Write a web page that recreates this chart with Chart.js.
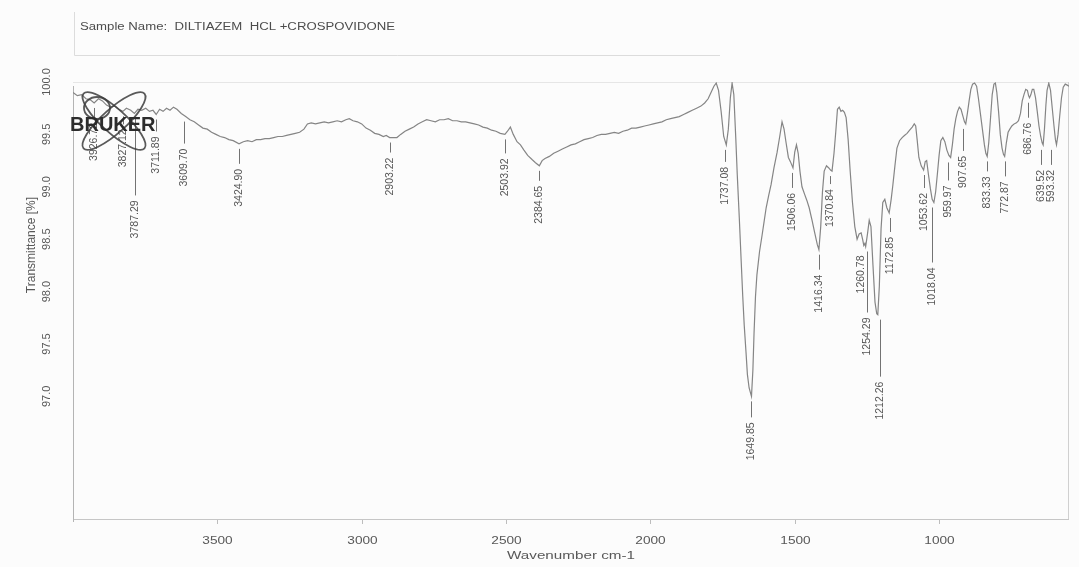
<!DOCTYPE html>
<html>
<head>
<meta charset="utf-8">
<title>DILTIAZEM HCL +CROSPOVIDONE – IR spectrum</title>
<script src="https://cdn.jsdelivr.net/npm/chart.js@4.4.0/dist/chart.umd.min.js"></script>
<style>
  html, body { margin: 0; padding: 0; background: #fcfcfc; }
  canvas { display: block; }
</style>
</head>
<body>
<canvas id="spectrum" width="1079" height="567"></canvas>
<script>
// Spectrum: wavenumber (cm-1) and transmittance (%)
const wavenumbers = [
  4000, 3985, 3970, 3955, 3940, 3926.72, 3912, 3898, 3884, 3870, 3856, 3842, 3827.12, 3815, 3800, 3787.29,
  3775, 3762, 3748, 3735, 3723, 3711.89, 3700, 3688, 3676, 3664, 3652, 3640, 3625, 3609.70, 3595, 3580,
  3565, 3550, 3535, 3520, 3505, 3490, 3475, 3460, 3445, 3424.90, 3410, 3395, 3380, 3365, 3350, 3335,
  3320, 3305, 3290, 3275, 3260, 3245, 3230, 3215, 3200, 3188, 3175, 3160, 3145, 3130, 3115, 3100,
  3085, 3070, 3055, 3043, 3030, 3015, 3000, 2985, 2970, 2955, 2940, 2925, 2915, 2903.22, 2890, 2878,
  2865, 2850, 2835, 2820, 2805, 2790, 2775, 2760, 2745, 2730, 2715, 2700, 2685, 2670, 2655, 2640,
  2625, 2610, 2595, 2580, 2565, 2550, 2535, 2520, 2503.92, 2495, 2485, 2475, 2462, 2450, 2438, 2425,
  2410, 2398, 2384.65, 2375, 2365, 2350, 2335, 2320, 2305, 2290, 2275, 2260, 2245, 2230, 2215, 2200,
  2185, 2170, 2155, 2140, 2125, 2110, 2095, 2080, 2065, 2050, 2035, 2020, 2005, 1990, 1975, 1960,
  1945, 1930, 1915, 1900, 1885, 1870, 1855, 1840, 1825, 1812, 1800, 1790, 1780, 1772, 1764, 1755,
  1746, 1737.08, 1730, 1723, 1717, 1711, 1704, 1699, 1692, 1686, 1680, 1675, 1669, 1664, 1658, 1649.85,
  1645, 1641, 1636, 1631, 1622, 1613, 1606, 1599, 1590, 1582, 1572, 1561, 1552, 1544, 1537, 1530,
  1522, 1515, 1506.06, 1500, 1494, 1488, 1482, 1475, 1466, 1458, 1450, 1440, 1430, 1422, 1416.34, 1410,
  1404, 1398, 1390, 1382, 1376, 1370.84, 1364, 1358, 1352, 1346, 1340, 1334, 1328, 1322, 1315, 1308,
  1300, 1292, 1284, 1277, 1270, 1265, 1260.78, 1257, 1254.29, 1248, 1242, 1236, 1229, 1222, 1216, 1212.26,
  1207, 1201, 1195, 1188, 1181, 1172.85, 1166, 1160, 1153, 1146, 1137, 1128, 1120, 1111, 1102, 1093,
  1086, 1081, 1076, 1070, 1062, 1053.62, 1048, 1043, 1037, 1030, 1024, 1018.04, 1012, 1006, 1000, 994,
  987, 980, 973, 966, 959.97, 954, 948, 942, 936, 930, 924, 918, 912, 907.65, 902, 896,
  890, 884, 877, 870, 864, 857, 850, 843, 838, 833.33, 828, 822, 816, 810, 805, 800,
  794, 788, 782, 777, 772.87, 767, 761, 755, 748, 740, 732, 725, 718, 712, 706, 700,
  694, 690, 686.76, 682, 677, 672, 666, 660, 654, 648, 643, 639.52, 635, 630, 626, 620,
  614, 608, 602, 597, 593.32, 588, 582, 576, 570, 563, 556, 550
];
const transmittance = [
  99.90, 99.87, 99.88, 99.84, 99.83, 99.80, 99.84, 99.82, 99.78, 99.76, 99.77, 99.74, 99.72, 99.75, 99.73, 99.70,
  99.74, 99.73, 99.75, 99.72, 99.73, 99.69, 99.74, 99.72, 99.75, 99.73, 99.76, 99.74, 99.70, 99.67, 99.64, 99.62,
  99.59, 99.56, 99.55, 99.52, 99.50, 99.48, 99.47, 99.45, 99.44, 99.41, 99.43, 99.44, 99.43, 99.45, 99.45, 99.46,
  99.46, 99.47, 99.48, 99.48, 99.49, 99.50, 99.51, 99.52, 99.55, 99.60, 99.61, 99.60, 99.61, 99.62, 99.61, 99.62,
  99.63, 99.62, 99.64, 99.65, 99.63, 99.62, 99.60, 99.56, 99.54, 99.51, 99.50, 99.48, 99.49, 99.47, 99.47, 99.47,
  99.50, 99.53, 99.55, 99.57, 99.60, 99.62, 99.64, 99.63, 99.62, 99.64, 99.64, 99.65, 99.63, 99.63, 99.62, 99.62,
  99.61, 99.60, 99.59, 99.57, 99.56, 99.54, 99.53, 99.51, 99.50, 99.53, 99.57, 99.50, 99.43, 99.40, 99.35, 99.30,
  99.26, 99.23, 99.20, 99.25, 99.27, 99.29, 99.32, 99.34, 99.36, 99.38, 99.40, 99.41, 99.43, 99.45, 99.46, 99.47,
  99.49, 99.50, 99.50, 99.51, 99.52, 99.51, 99.53, 99.54, 99.56, 99.56, 99.57, 99.58, 99.59, 99.60, 99.61, 99.62,
  99.64, 99.65, 99.66, 99.67, 99.69, 99.71, 99.73, 99.75, 99.77, 99.80, 99.84, 99.90, 99.96, 99.99, 99.92, 99.72,
  99.48, 99.40, 99.55, 99.85, 99.99, 99.88, 99.45, 99.11, 98.70, 98.32, 97.95, 97.68, 97.43, 97.21, 97.08, 97.00,
  97.25, 97.60, 97.95, 98.16, 98.38, 98.54, 98.67, 98.80, 98.92, 99.02, 99.18, 99.33, 99.48, 99.62, 99.55, 99.42,
  99.28, 99.24, 99.18, 99.33, 99.40, 99.32, 99.15, 99.00, 98.93, 98.87, 98.80, 98.68, 98.55, 98.45, 98.40, 98.62,
  98.95, 99.15, 99.20, 99.18, 99.16, 99.15, 99.32, 99.52, 99.74, 99.76, 99.72, 99.73, 99.71, 99.66, 99.45, 99.15,
  98.85, 98.62, 98.50, 98.55, 98.56, 98.50, 98.44, 98.46, 98.43, 98.55, 98.68, 98.62, 98.25, 97.90, 97.79, 97.78,
  98.05, 98.60, 98.85, 98.88, 98.80, 98.75, 98.88, 99.02, 99.20, 99.37, 99.44, 99.47, 99.49, 99.51, 99.54, 99.57,
  99.60, 99.58, 99.45, 99.28, 99.20, 99.16, 99.24, 99.25, 99.12, 98.98, 98.88, 98.85, 98.95, 99.12, 99.30, 99.44,
  99.47, 99.43, 99.35, 99.30, 99.28, 99.40, 99.55, 99.65, 99.72, 99.76, 99.74, 99.68, 99.62, 99.60, 99.70, 99.82,
  99.93, 99.98, 99.99, 99.96, 99.85, 99.70, 99.55, 99.40, 99.32, 99.29, 99.42, 99.65, 99.88, 99.98, 99.99, 99.90,
  99.72, 99.50, 99.37, 99.31, 99.29, 99.42, 99.52, 99.55, 99.58, 99.60, 99.61, 99.63, 99.70, 99.82, 99.88, 99.93,
  99.92, 99.87, 99.85, 99.88, 99.93, 99.93, 99.85, 99.72, 99.58, 99.48, 99.42, 99.40, 99.55, 99.78, 99.92, 99.99,
  99.92, 99.75, 99.58, 99.45, 99.40, 99.50, 99.68, 99.85, 99.95, 99.98, 99.97, 99.96
];

// Axis ticks
const xTickValues = [3500, 3000, 2500, 2000, 1500, 1000];
const yTickValues = [97.0, 97.5, 98.0, 98.5, 99.0, 99.5, 100.0];

// Picked band positions (cm-1)
const peakPositions = [
  3926.72, 3827.12, 3787.29, 3711.89, 3609.70, 3424.90, 2903.22, 2503.92, 2384.65,
  1737.08, 1649.85, 1506.06, 1416.34, 1370.84, 1260.78, 1254.29, 1212.26, 1172.85,
  1053.62, 1018.04, 959.97, 907.65, 833.33, 772.87, 686.76, 639.52, 593.32
];
// Label layout: leader length below the band (px) and sideways nudge (px)
const peakLeader = [10, 8, 77, 12, 22, 15, 10, 14, 10, 12, 16, 15, 15, 8, 0, 61, 57, 14, 13, 55, 18, 22, 10, 15, 15, 15, 15];
const peakNudge  = [0, 0, 1, 0, -2, 0, 0, 0, 0, -1, 0, -1, 0, -2, -3, 1, 2, 1, 0, -2, -3, -3, 0, 0, -2, -2, -5];

const FONT = '"Liberation Sans", Arial, Helvetica, sans-serif';

function stretchedText(ctx, text, x, y, sx, align) {
  ctx.save();
  ctx.translate(x, y);
  ctx.scale(sx, 1);
  ctx.textAlign = align;
  ctx.textBaseline = 'middle';
  ctx.fillText(text, 0, 0);
  ctx.restore();
}

function uprightText(ctx, text, x, y, align) {
  ctx.save();
  ctx.translate(x, y);
  ctx.rotate(-Math.PI / 2);
  ctx.textAlign = align;
  ctx.textBaseline = 'middle';
  ctx.fillText(text, 0, 0);
  ctx.restore();
}

const paperPlugin = {
  id: 'paper',
  beforeDraw(chart) {
    const ctx = chart.ctx;
    ctx.save();
    ctx.fillStyle = '#fcfcfc';
    ctx.fillRect(0, 0, chart.width, chart.height);

    // sample header box
    ctx.strokeStyle = '#dcdcdc';
    ctx.lineWidth = 1;
    ctx.beginPath();
    ctx.moveTo(74.5, 12); ctx.lineTo(74.5, 55.5); ctx.lineTo(720, 55.5);
    ctx.stroke();
    ctx.fillStyle = '#4c4c4c';
    ctx.font = '10px ' + FONT;
    const head = 'Sample Name:  DILTIAZEM  HCL +CROSPOVIDONE';
    const w = ctx.measureText(head).width;
    stretchedText(ctx, head, 80, 27, 315 / w, 'left');

    // plot frame
    const a = chart.chartArea;
    ctx.lineWidth = 1;
    ctx.strokeStyle = '#e6e6e6';
    ctx.beginPath(); ctx.moveTo(a.left, a.top + 0.5); ctx.lineTo(a.right, a.top + 0.5); ctx.stroke();
    ctx.strokeStyle = '#d0d0d0';
    ctx.beginPath(); ctx.moveTo(a.right - 0.5, a.top); ctx.lineTo(a.right - 0.5, a.bottom); ctx.stroke();
    ctx.strokeStyle = '#c6c6c6';
    ctx.beginPath(); ctx.moveTo(a.left, a.bottom + 0.5); ctx.lineTo(a.right, a.bottom + 0.5); ctx.stroke();
    ctx.strokeStyle = '#b4b4b4';
    ctx.beginPath(); ctx.moveTo(a.left + 0.5, a.top + 4); ctx.lineTo(a.left + 0.5, a.bottom + 3); ctx.stroke();
    ctx.restore();
  }
};

const axisTextPlugin = {
  id: 'axisText',
  afterDraw(chart) {
    const ctx = chart.ctx;
    const xs = chart.scales.x, ys = chart.scales.y;
    const a = chart.chartArea;
    ctx.save();
    ctx.fillStyle = '#585858';
    ctx.strokeStyle = '#bdbdbd';
    ctx.lineWidth = 1;

    // x ticks and labels
    ctx.font = '10.5px ' + FONT;
    xs.ticks.forEach(t => {
      const px = Math.round(xs.getPixelForValue(t.value)) + 0.5;
      ctx.beginPath(); ctx.moveTo(px, a.bottom + 1); ctx.lineTo(px, a.bottom + 5); ctx.stroke();
      stretchedText(ctx, String(t.value), px, 541, 1.3, 'center');
    });
    ctx.font = '10.5px ' + FONT;
    const title = 'Wavenumber cm-1';
    const tw = ctx.measureText(title).width;
    stretchedText(ctx, title, (a.left + a.right) / 2, 556, 128 / tw, 'center');

    // y labels
    ctx.font = '11px ' + FONT;
    ys.ticks.forEach(t => {
      uprightText(ctx, t.value.toFixed(1), 47, ys.getPixelForValue(t.value), 'center');
    });
    ctx.font = '12px ' + FONT;
    uprightText(ctx, 'Transmittance [%]', 32, 245, 'center');
    ctx.restore();
  }
};

const peakPlugin = {
  id: 'peaks',
  afterDatasetsDraw(chart) {
    const ctx = chart.ctx;
    const xs = chart.scales.x, ys = chart.scales.y;
    ctx.save();
    ctx.font = '10.5px ' + FONT;
    ctx.fillStyle = '#555555';
    ctx.strokeStyle = '#737373';
    ctx.lineWidth = 1;
    peakPositions.forEach((wn, i) => {
      const k = wavenumbers.indexOf(wn);
      const px = xs.getPixelForValue(wn);
      const py = ys.getPixelForValue(transmittance[k]);
      const lx = Math.round(px + peakNudge[i]) + 0.5;
      const top = py + 5;
      const bottom = top + peakLeader[i];
      if (peakLeader[i] > 0) {
        ctx.beginPath(); ctx.moveTo(lx, top); ctx.lineTo(lx, bottom); ctx.stroke();
      }
      uprightText(ctx, wn.toFixed(2), lx, bottom + 5, 'right');
    });
    ctx.restore();
  }
};

const logoPlugin = {
  id: 'logo',
  afterDraw(chart) {
    const ctx = chart.ctx;
    ctx.save();
    ctx.strokeStyle = 'rgba(60,60,60,0.85)';
    ctx.lineWidth = 1.8;
    [[42, 41, 12], [-42, 41, 12]].forEach(([deg, rx, ry]) => {
      ctx.beginPath();
      ctx.ellipse(114, 121, rx, ry, deg * Math.PI / 180, 0, Math.PI * 2);
      ctx.stroke();
    });
    ctx.beginPath();
    ctx.ellipse(97, 108, 13, 11, 0, 0, Math.PI * 2);
    ctx.stroke();
    ctx.fillStyle = '#2c2c2c';
    ctx.font = 'bold 20px ' + FONT;
    ctx.textAlign = 'left';
    ctx.textBaseline = 'alphabetic';
    ctx.fillText('BRUKER', 70, 131);
    ctx.restore();
  }
};

const points = wavenumbers.map((w, i) => ({ x: w, y: transmittance[i] }));

new Chart(document.getElementById('spectrum'), {
  type: 'line',
  data: {
    datasets: [{
      data: points,
      borderColor: '#858585',
      borderWidth: 1.2,
      pointRadius: 0,
      tension: 0,
      fill: false
    }]
  },
  options: {
    responsive: false,
    animation: false,
    devicePixelRatio: 1,
    layout: { padding: { top: 82, right: 10, bottom: 0, left: 0 } },
    plugins: { legend: { display: false }, tooltip: { enabled: false } },
    scales: {
      x: {
        type: 'linear',
        reverse: true,
        min: 550,
        max: 4000,
        grid: { display: false },
        border: { display: false },
        ticks: { display: false },
        afterBuildTicks: s => { s.ticks = xTickValues.map(v => ({ value: v })); },
        afterFit: s => { s.height = 48; }
      },
      y: {
        type: 'linear',
        min: 95.83,
        max: 100.0,
        grid: { display: false },
        border: { display: false },
        ticks: { display: false },
        afterBuildTicks: s => { s.ticks = yTickValues.map(v => ({ value: v })); },
        afterFit: s => { s.width = 73; }
      }
    }
  },
  plugins: [paperPlugin, peakPlugin, axisTextPlugin, logoPlugin]
});
</script>
</body>
</html>
